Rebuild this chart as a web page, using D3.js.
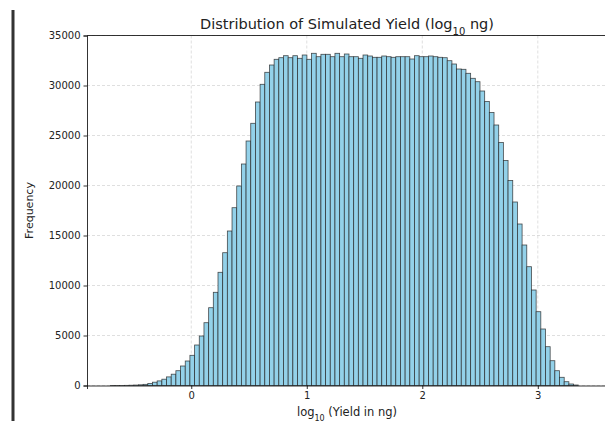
<!DOCTYPE html>
<html>
<head>
<meta charset="utf-8">
<script src="https://cdn.jsdelivr.net/npm/d3@7"></script>
<style>
  html, body { margin: 0; padding: 0; background: #fff; }
  svg { display: block; font-family: "DejaVu Sans", sans-serif; }
</style>
</head>
<body>
<svg id="stage" width="605" height="421"></svg>
<script>
var svg = d3.select('#stage'),
    WIDTH = 605,
    HEIGHT = 421,
    LEFT = 87,
    RIGHT = 607,
    TOP = 35.5,
    BOTTOM = 385.5;

// histogram: 100 equal bins between binLo and binHi
var binLo = -0.7,
    binHi = 3.35;

var counts = [
  2, 4, 8, 15, 28, 45, 70, 115, 200, 330,
  460, 630, 860, 1130, 1480, 1950, 2450, 3020, 4050, 4950,
  6280, 7780, 9320, 11320, 13280, 15450, 17780, 19950, 22150, 24450,
  26220, 28350, 30120, 31320, 32050, 32620, 32780, 32980, 32780, 32980,
  32720, 33050, 32620, 33220, 32880, 33120, 33120, 32880, 33220, 32880,
  33150, 32880, 32880, 32720, 33050, 32950, 32820, 32820, 32950, 32880,
  32820, 32880, 32880, 32880, 32650, 32980, 32880, 32880, 32950, 32880,
  32820, 32780, 32480, 32150, 31650, 31620, 31220, 30720, 30380, 29450,
  28400, 27300, 26050, 24300, 22500, 20500, 18350, 16150, 14050, 11880,
  9550, 7380, 5650, 3880, 2480, 1480, 820, 380, 150, 50
];

var xTicks = [0, 1, 2, 3],
    yTicks = [0, 5000, 10000, 15000, 20000, 25000, 30000, 35000];

var binW = (binHi - binLo) / counts.length;

var x = d3.scaleLinear()
  .domain([-0.9025, 3.599])
  .range([LEFT, RIGHT]);

var y = d3.scaleLinear()
  .domain([0, 35000])
  .range([BOTTOM, TOP]);

// the dark bar at the far left of the screenshot
svg.append('line')
  .attr('x1', 13).attr('x2', 13)
  .attr('y1', 10).attr('y2', HEIGHT)
  .attr('stroke', '#333')
  .attr('stroke-width', 3);

// grid
var grid = svg.append('g').attr('class', 'grid');
grid.selectAll('line.gy')
  .data(yTicks)
  .enter().append('line')
  .attr('class', 'gy')
  .attr('x1', LEFT).attr('x2', RIGHT)
  .attr('y1', function (d) { return y(d); })
  .attr('y2', function (d) { return y(d); });
grid.selectAll('line.gx')
  .data(xTicks)
  .enter().append('line')
  .attr('class', 'gx')
  .attr('x1', function (d) { return x(d); })
  .attr('x2', function (d) { return x(d); })
  .attr('y1', TOP).attr('y2', BOTTOM);
grid.selectAll('line')
  .attr('stroke', '#b0b0b0')
  .attr('stroke-opacity', 0.5)
  .attr('stroke-width', 0.8)
  .attr('stroke-dasharray', '3,2');

// bars
svg.append('g')
  .selectAll('rect')
  .data(counts)
  .enter().append('rect')
  .attr('x', function (d, i) { return x(binLo + i * binW); })
  .attr('width', function (d, i) { return x(binLo + (i + 1) * binW) - x(binLo + i * binW); })
  .attr('y', function (d) { return y(d); })
  .attr('height', function (d) { return BOTTOM - y(d); })
  .attr('fill', '#93d1e9')
  .attr('stroke', '#222')
  .attr('stroke-opacity', 0.8)
  .attr('stroke-width', 0.8);

// axes
var xAxis = svg.append('g')
  .attr('transform', 'translate(0,' + BOTTOM + ')')
  .call(d3.axisBottom(x).tickValues(xTicks).tickSize(3.5).tickPadding(3).tickFormat(d3.format('d')));

var yAxis = svg.append('g')
  .attr('transform', 'translate(' + LEFT + ',0)')
  .call(d3.axisLeft(y).tickValues(yTicks).tickSize(3.5).tickPadding(3).tickFormat(d3.format('d')));

[xAxis, yAxis].forEach(function (g) {
  g.select('.domain').attr('stroke', '#000').attr('stroke-width', 0.8);
  g.selectAll('.tick line').attr('stroke', '#000').attr('stroke-width', 0.8);
  g.selectAll('.tick text')
    .attr('fill', '#222')
    .style('font-family', '"DejaVu Sans", sans-serif')
    .style('font-size', '10px');
});

// top spine
svg.append('line')
  .attr('x1', LEFT).attr('x2', RIGHT)
  .attr('y1', TOP).attr('y2', TOP)
  .attr('stroke', '#000')
  .attr('stroke-width', 0.8);

// title
var title = svg.append('text')
  .attr('x', (LEFT + RIGHT) / 2)
  .attr('y', 29)
  .attr('text-anchor', 'middle')
  .attr('fill', '#222')
  .style('font-size', '14.5px');
title.append('tspan').text('Distribution of Simulated Yield (log');
title.append('tspan').attr('baseline-shift', 'sub').style('font-size', '10px').text('10');
title.append('tspan').text(' ng)');

// x label
var xl = svg.append('text')
  .attr('x', (LEFT + RIGHT) / 2)
  .attr('y', 416)
  .attr('text-anchor', 'middle')
  .attr('fill', '#222')
  .style('font-size', '11.5px');
xl.append('tspan').text('log');
xl.append('tspan').attr('baseline-shift', 'sub').style('font-size', '8px').text('10');
xl.append('tspan').text(' (Yield in ng)');

// y label
svg.append('text')
  .attr('transform', 'translate(33,' + ((TOP + BOTTOM) / 2) + ') rotate(-90)')
  .attr('text-anchor', 'middle')
  .attr('fill', '#222')
  .style('font-size', '11px')
  .text('Frequency');
</script>
</body>
</html>
